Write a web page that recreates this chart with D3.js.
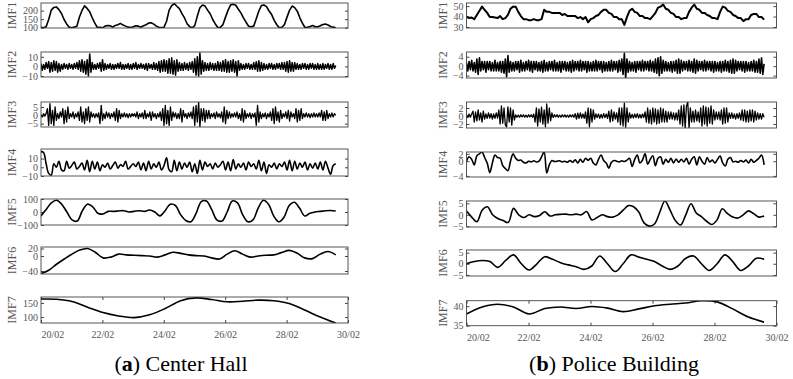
<!DOCTYPE html>
<html>
<head>
<meta charset="utf-8">
<script src="https://cdn.jsdelivr.net/npm/d3@7/dist/d3.min.js"></script>
<style>
  body { margin: 0; background: #fff; }
  svg { display: block; font-family: "Liberation Serif", "Times New Roman", serif; }
  .tick text { fill: #555; font-size: 10px; font-family: "Liberation Serif", "Times New Roman", serif; }
  .tick line { stroke: #444; }
</style>
</head>
<body>
<svg class="container"></svg>
<script>
// tick labels on the date axis (day offset from 20/02)
const dateLabels = ['20/02', '22/02', '24/02', '26/02', '28/02', '30/02'];
const dateTicks = [0, 2, 4, 6, 8, 10];
const spanDays = 9.6; // every series runs from 20/02 00:00 to ~29/02 14:00

// ---------- (a) Center Hall ----------
const chIMF1 = [102,99,105,148,203,219,222,206,183,148,122,103,
  100,103,108,163,201,228,213,193,158,127,101,102,
  99,109,113,111,103,113,117,125,115,109,103,101,
  105,111,109,103,111,117,127,129,121,109,103,99,
  103,138,203,230,242,226,212,183,157,123,106,99,
  112,168,217,233,227,203,182,148,122,101,102,118,
  162,203,234,238,232,208,187,158,132,108,105,109,
  152,198,230,233,224,198,177,143,117,99,102,118,
  162,203,227,218,197,158,127,101,102,107,113,105,
  105,111,119,121,116,107,103,100];
const chIMF2 = [3,-4,2,-3,4,-2,5,-6,4,-5, 6,-4,5,-6,3,-5,2,-3,3,-2,
  2,-3,3,-2,2,-3,3,-2,4,-3, 6,-5,7,-6,5,-8,7,-10,13,-6,
  4,-3,2,-3,3,-2,4,-5,7,-4, 3,-3,2,-2,3,-3,2,-3,2,-2,
  3,-2,4,-3,2,-3,2,-2,3,-3, 2,-3,3,-2,4,-3,2,-2,3,-2,
  2,-3,3,-4,3,-2,2,-3,4,-3, 3,-4,5,-6,6,-5,7,-5,6,-7,
  8,-7,9,-8,6,-9,7,-5,4,-4, 3,-4,4,-3,3,-4,4,-3,5,-6,
  8,-9,10,-10,14,-8,6,-5,4,-4, 3,-4,4,-3,3,-4,3,-4,5,-4,
  4,-5,6,-5,7,-6,5,-6,6,-5, 7,-6,5,-10,6,-4,3,-3,2,-3,
  3,-2,3,-3,2,-3,4,-3,5,-5, 6,-5,4,-4,3,-3,2,-3,3,-2,
  3,-3,2,-3,3,-2,3,-3,4,-3, 4,-5,5,-6,6,-5,4,-5,4,-3,
  3,-3,2,-3,3,-2,3,-3,2,-3, 3,-2,3,-3,2,-3,3,-3,2,-3,
  3,-3,2,-2,3,-3,2,-3,3,-2, 1];
const chIMF3 = [0.5,-1,1,-0.5,1,4,-6,7,-5,3, -6,5,-3,1,-2,2,-1,4,-5,3,
  -4,5,-2,1,-1,2,-2,1,-1,2, -3,5,-4,2,-5,4,-3,5,-4,2,
  -1,1,-1.5,1,-1,1.5,-5,6,-3,1, -2,2,-1,1.5,-2,1,-1,2,-3,4,
  -4,3,-2,1,-1,1.5,-1,1,-1.5,1, -1,1,-0.5,1,-1,2,-2,1,-1,1.5,
  -2,3,-2,1,-1,2,-3,2,-1,1, -2,1,-1,2,-3,4,-6,6,-5,3,
  -6,5,-3,2,-1,1.5,-2,1,-2,4, -4,3,-1,1,-2,1.5,-1,2,-2,5,
  -6,6,-4,8,-7,4,-3,4,-4,3, -2,3,-2,1,-1,1.5,-2,2,-1,1,
  -1.5,2,-4,5,-5,3,-2,2,-1.5,1, -1,1.5,-1,2,-2,1,-3,4,-4,3,
  -2,1,-1,1.5,-2,1,-1,1.5,-6,6, -4,2,-2,1,-1,1.5,-2,1,-1,2,
  -3,4,-5,5,-3,2,-4,3,-2,1, -1,2,-2,3,-3.5,2,-1,1,-2,4,
  -4,3,-3,4,-2,1,-1,1.5,-1,1, -1.5,1,-1,1.5,-1,1,-1,1.5,-1,3,
  -3,2,-3,3,-2,1,-1,1.5,-1,1, 0];
const chIMF4 = [18,17,4,-7,-9,4,0,7,-3,-4, 7,-1,2,6,-2,1,5,-3,8,-5,
  7,-2,6,-4,3,0,5,-2,2,6, -1,3,1,7,-2,1,4,1,6,-3,
  5,-4,7,-2,4,0,6,-3,2,11, -3,-5,8,-4,6,-2,5,0,6,-5,
  4,-7,8,-3,6,1,4,-2,5,0, 3,7,-3,6,-4,9,-2,4,0,5,
  -3,6,1,4,-2,8,-4,6,-7,3, 0,5,-2,4,1,6,-3,8,-4,7,
  -2,5,0,6,-3,4,-1,5,-2,6, -3,7,-1,-8,2,4];
const chIMF5 = [-30,20,70,90,60,0,-60,-70,10,60, 40,-10,-15,5,5,8,10,0,5,10,
  5,15,0,-30,10,60,50,-20,-65,-75, -10,80,85,20,-60,-70,0,85,70,-20,
  -75,-60,30,90,60,-30,-75,-40,50,75, 30,-30,-10,0,5,10,12,8];
const chIMF6 = [-47,-38,-22,-8,5,16,20,10,-5,-3, 5,3,2,1,0,-3,3,10,7,3,
  1,0,-5,-8,5,14,5,-3,0,2, 3,9,15,8,-5,-7,5,12,3];
const chIMF7 = [164,163,155,135,116,104,98,108,130,158,
  168,162,154,156,160,158,148,125,100,79];

// ---------- (b) Police Building ----------
const pbIMF1 = [40,38.5,39,37.5,41.5,45.5,49.5,46.5,43.5,39.5,39.5,39,
  38.5,40.5,37.5,38.5,41.5,47.5,49.5,49.5,44.5,40.5,37.5,37.5,
  36.5,36.5,37.5,36.5,36.5,37.5,46.5,44.5,44.5,43.5,43.5,43.5,
  43.5,41.5,42.5,40.5,40.5,40.5,40.5,38.5,39.5,37.5,39.5,34.5,
  37.5,38.5,40.5,41.5,44.5,46.5,46.5,43.5,42.5,39.5,39.5,37.5,
  37.5,32,39.5,45.5,47.5,44.5,43.5,40.5,40.5,38.5,38.5,37.5,
  40.5,43.5,48.5,49.5,51.5,47.5,46.5,43.5,42.5,39.5,39.5,37.5,
  38.5,38.5,44.5,48.5,51.5,47.5,46.5,43.5,43.5,41.5,40.5,38.5,
  38.5,37.5,44.5,49.5,48.5,45.5,44.5,41.5,40.5,38.5,38.5,35.5,
  37.5,37.5,41.5,42.5,42.5,39.5,39.5,37];
const pbIMF2 = [1.5,-2,2,-1.5,2.5,-2,1.5,-2.5,3,-3.5, 3.5,-2,2,-1.5,2,-2.5,2,-1.5,2,-2,
  1.5,-2,2.5,-2,1.5,-2,2,-2.5,2,-3, 3,-4.5,4.5,-2.5,2,-2,1.5,-2,2,-1.5,
  2,-2.5,2.5,-2,1.5,-2,2,-1.5,2.5,-2, 2,-2.5,2,-1.5,2,-2,1.5,-2,2,-2.5,
  2.5,-2,1.5,-2,2,-1.5,2,-2,2.5,-2, 1.5,-2,2,-2.5,2,-1.5,2,-2,1.5,-2,
  2,-2.5,2.5,-2,2,-1.5,2,-2,2.5,-2, 2,-1.5,2,-2.5,2,-2,1.5,-2,2,-2,
  2.5,-2,2,-1.5,2,-2.5,2,-2,1.5,-2, 2,-2,2.5,-2,2,-1.5,2,-2.5,2.5,-2,
  3,-3.5,5.5,-5,3,-2.5,2,-2,1.5,-2, 2,-2.5,2,-1.5,2,-2,2.5,-2,2,-1.5,
  2,-2,2.5,-2,2,-2.5,3,-3,3.5,-4, 4,-3,2.5,-2,2,-2,1.5,-2,2,-2.5,
  2,-2,2.5,-3,3,-3,2.5,-2,2,-1.5, 2,-2,2.5,-2,2,-2.5,3,-3,2.5,-2,
  2,-1.5,2,-2,2.5,-2,2,-1.5,2,-2, 2,-2.5,2,-2,1.5,-2,2,-2.5,2,-2,
  2.5,-2,2,-2.5,2.5,-3,3,-3,2.5,-2, 2,-1.5,2,-2,2,-2.5,2,-2,1.5,-2,
  2,-2,2.5,-2.5,2,-2.5,3,-3,3.5,-3.5, 1];
const pbIMF3 = [0.3,-0.4,0.5,-0.3,0.5,1.2,-1.5,1,-1.2,1.5, -1,0.8,-1.5,1.2,-0.8,0.5,-0.6,0.8,-0.5,0.6,
  -0.8,0.5,-0.6,0.8,-0.5,1.5,-2,2.5,-1.8,2, -2.2,-2.7,2.3,-1.5,2,-2.3,1.5,-1,0.3,-0.3,
  0.2,-0.3,0.3,-0.2,0.3,-0.3,0.2,-0.3,0.3,-0.2, 0.3,-0.3,0.5,-1.5,2,-2.5,1.8,-1.5,2.2,-2,
  1.5,-2.7,3,-1.8,2,-1.2,0.8,-0.4,0.3,-0.2, 0.3,-0.3,0.2,-0.3,0.3,-0.2,0.3,-0.3,0.2,-0.3,
  0.3,-0.2,0.3,-0.3,0.6,-0.8,0.7,-0.6,0.8,-0.5, 0.5,-0.6,1,-1.8,2,-2.7,1.8,-1.5,1.5,-0.8,
  0.5,-0.4,0.5,-0.6,0.4,-0.5,0.6,-0.4,0.5,-0.6, 1.2,-1.5,1.5,-1.2,1,-0.8,0.8,-1.5,2,-2.2,
  2,-2.5,3.2,-2.8,2,-1.5,0.8,-0.5,0.4,-0.5, 0.5,-0.4,0.6,-0.5,0.4,-0.5,0.5,-0.4,1,-1.5,
  2,-1.8,1.5,-2,2,-1.5,1.8,-2,1.5,-1.8, 2,-1.5,1.8,-1.5,1.2,-1.5,1,-0.8,1,-0.8,
  0.8,-1,0.8,-1,1.5,-2,2.5,-2.5,2.8,-3, 2.5,3.5,-3,2,-1.5,1.2,-1.5,1.5,-1.2,1,
  -1.5,2,-2.5,2.5,-2,2.3,-2.5,2,-1.8,2.5, -2,1.5,-1,1,-0.8,1,-1,1.5,-2,2,
  -1.8,2,-1.5,0.8,-0.6,0.8,-0.6,0.5,-0.8,0.6, -0.6,0.8,-1,1.5,-1.2,1.5,-1.5,1.2,-1.5,1.5,
  -1.2,1.5,-1.5,1.2,-1,0.8,-0.8,0.6,-0.8,0.6, -0.3];
const pbIMF4 = [0,1.2,0.5,-1,1.5,2,2.5,1,-0.5,-3.1, -0.5,1.7,1,0.8,-1.2,-2,-2.6,0,2,0.8,
  0.2,0.3,-0.3,-0.5,0,-0.2,0.1,-0.2,0,1.2, 2.5,-3.2,-1,0.2,-0.1,0,0.1,-0.2,0,-0.3,
  0.2,-0.3,0.4,-0.5,0.5,-0.3,0.8,0.2,0.8,-0.5, -1,0.5,1.7,0.2,-0.5,-1.9,-0.3,0.2,0,-0.2,
  0.1,-0.1,0.3,0.8,-1.4,0.5,1.7,-0.5,0.3,2.1, -0.8,0.5,1.5,-1.2,0.8,1.2,-0.8,0.5,-0.3,0.8,
  -0.5,0.6,-0.3,0.5,-0.2,0.8,-0.8,0.5,1.2,-1, 1.2,0,-0.8,1,-0.2,0.3,-0.5,0.5,1.4,-0.5,
  -1.3,0.5,1,-0.2,0,-0.3,0.2,-0.2,0.3,-0.5, 0.5,-0.3,0.2,0.8,1.7,-1];
const pbIMF5 = [1.6,-1,-3,2,3.5,0,-1.6,-2.5,-3.3,2.8, 0,-1.2,0,-0.8,-0.3,1.3,-0.5,0,0.2,0.3,
  0,0.3,0,1.4,-2.2,-1.2,0,-0.8,-1,0, 2,4,3.5,1.2,-3.5,-4.9,-4,1,6,2,
  -2.5,-4.4,0,4.8,0.8,-0.8,-2.8,-4.2,-2.2,2.6, 0.5,-1,-1.4,0,1.7,0.5,-1,-0.5];
const pbIMF6 = [0,1,1.5,1,-1.6,1.5,4,0,-2.8,0, 3.2,2,0.5,-0.5,-1.3,-2.5,-1,3.5,0,-3.5,
  0,4,3,2,1,-1,-2.5,-1,2.5,3.5, 0,-3,0,4,1,-3,-1,2.5,2];
const pbIMF7 = [38,39.8,40.5,39.8,38,39.4,39.8,39.4,39.9,39.5,
  38.6,39.3,40.1,40.5,40.8,41.4,41.1,39.3,37.2,35.9];

// ---------- layout ----------
const w = 793, h = 379;
const panels = [
  { label: 'a', name: ' Center Hall', x0: 41, x1: 348, labelX: 12, titleX: 181,
    rows: [
      { name: 'IMF1', values: chIMF1, domain: [98, 245], ticks: [100, 150, 200], top: 3, bottom: 28, sw: 1.6 },
      { name: 'IMF2', values: chIMF2, domain: [-11, 15], ticks: [-10, 0, 10], top: 52, bottom: 77, sw: 1.5 },
      { name: 'IMF3', values: chIMF3, domain: [-7, 8], ticks: [-5, 0, 5], top: 102, bottom: 127, sw: 1.3 },
      { name: 'IMF4', values: chIMF4, domain: [-10, 21], ticks: [-10, 0, 10], top: 149, bottom: 176, smooth: true },
      { name: 'IMF5', values: chIMF5, domain: [-100, 100], ticks: [-100, 0, 100], top: 199, bottom: 225, smooth: true },
      { name: 'IMF6', values: chIMF6, domain: [-48, 24], ticks: [-40, 0, 20], top: 247, bottom: 274, smooth: true },
      { name: 'IMF7', values: chIMF7, domain: [79, 171], ticks: [100, 150], top: 297, bottom: 323, smooth: true }
    ] },
  { label: 'b', name: ' Police Building', x0: 466.5, x1: 776.5, labelX: 443, titleX: 614,
    rows: [
      { name: 'IMF1', values: pbIMF1, domain: [29, 53], ticks: [30, 40, 50], top: 3, bottom: 28, sw: 2 },
      { name: 'IMF2', values: pbIMF2, domain: [-5, 6], ticks: [-4, 0, 4], top: 52, bottom: 78, sw: 1.6 },
      { name: 'IMF3', values: pbIMF3, domain: [-3, 3.5], ticks: [-2, 0, 2], top: 102, bottom: 128, sw: 1.3 },
      { name: 'IMF4', values: pbIMF4, domain: [-4.3, 2.5], ticks: [-4, 0, 2], top: 152, bottom: 177, smooth: true },
      { name: 'IMF5', values: pbIMF5, domain: [-5.3, 6], ticks: [-5, 0, 5], top: 201, bottom: 227, smooth: true },
      { name: 'IMF6', values: pbIMF6, domain: [-5.5, 6.2], ticks: [-5, 0, 5], top: 250, bottom: 276, smooth: true },
      { name: 'IMF7', values: pbIMF7, domain: [35, 41.4], ticks: [35, 40], top: 300.7, bottom: 325.7, smooth: true }
    ] }
];

const svg = d3.select('.container').attr('width', w).attr('height', h);
const defs = svg.append('defs');

panels.forEach((p, pi) => {
  const xScale = d3.scaleLinear().domain([0, 10]).range([p.x0, p.x1]);
  const g = svg.append('g').attr('class', 'panel');

  p.rows.forEach((r, ri) => {
    const yScale = d3.scaleLinear().domain(r.domain).range([r.bottom, r.top]);
    const n = r.values.length;
    const clipId = `clip-${pi}-${ri}`;
    defs.append('clipPath').attr('id', clipId)
      .append('rect')
      .attr('x', p.x0).attr('y', r.top)
      .attr('width', p.x1 - p.x0).attr('height', r.bottom - r.top);

    const lineGen = d3.line()
      .x((d, i) => xScale(i * spanDays / (n - 1)))
      .y(d => yScale(d))
      .curve(r.smooth ? d3.curveCatmullRom.alpha(0.5) : d3.curveLinear);

    const sub = g.append('g').attr('class', 'subplot');

    // y axis, ticks pointing inwards
    sub.append('g')
      .attr('transform', `translate(${p.x0},0)`)
      .call(d3.axisLeft(yScale).tickValues(r.ticks).tickSize(-3).tickPadding(3).tickFormat(d3.format('d')))
      .call(ax => ax.select('.domain').remove());
    sub.append('g')
      .attr('transform', `translate(${p.x1},0)`)
      .call(d3.axisRight(yScale).tickValues(r.ticks).tickSize(-3).tickFormat(''))
      .call(ax => ax.select('.domain').remove());

    if (ri === p.rows.length - 1) {
      const xb = sub.append('g')
        .attr('transform', `translate(0,${r.bottom})`)
        .call(d3.axisBottom(xScale).tickValues(dateTicks).tickSize(-3).tickPadding(8)
          .tickFormat((d, i) => dateLabels[i]))
        .call(ax => ax.select('.domain').remove());
      xb.selectAll('.tick text').filter(d => d === 0).attr('text-anchor', 'start');
      sub.append('g')
        .attr('transform', `translate(0,${r.top})`)
        .call(d3.axisTop(xScale).tickValues(dateTicks).tickSize(-3).tickFormat(''))
        .call(ax => ax.select('.domain').remove());
    }

    sub.append('path')
      .datum(r.values)
      .attr('clip-path', `url(#${clipId})`)
      .attr('fill', 'none')
      .attr('stroke', '#000')
      .attr('stroke-width', r.smooth ? 1.6 : r.sw)
      .attr('stroke-linejoin', 'round')
      .attr('d', lineGen);

    sub.append('rect')
      .attr('x', p.x0).attr('y', r.top)
      .attr('width', p.x1 - p.x0).attr('height', r.bottom - r.top)
      .attr('fill', 'none')
      .attr('stroke', '#444')
      .attr('stroke-width', 0.9);

    sub.append('text')
      .attr('transform', `translate(${p.labelX},${(r.top + r.bottom) / 2}) rotate(-90)`)
      .attr('text-anchor', 'middle')
      .attr('dy', '0.35em')
      .attr('fill', '#555')
      .style('font-size', '12px')
      .text(r.name);
  });

  const title = g.append('text')
    .attr('x', p.titleX)
    .attr('y', 371)
    .attr('text-anchor', 'middle')
    .attr('fill', '#000')
    .style('font-size', '22px');
  title.append('tspan').text('(');
  title.append('tspan').style('font-weight', 'bold').text(p.label);
  title.append('tspan').text(')' + p.name);
});
</script>
</body>
</html>
